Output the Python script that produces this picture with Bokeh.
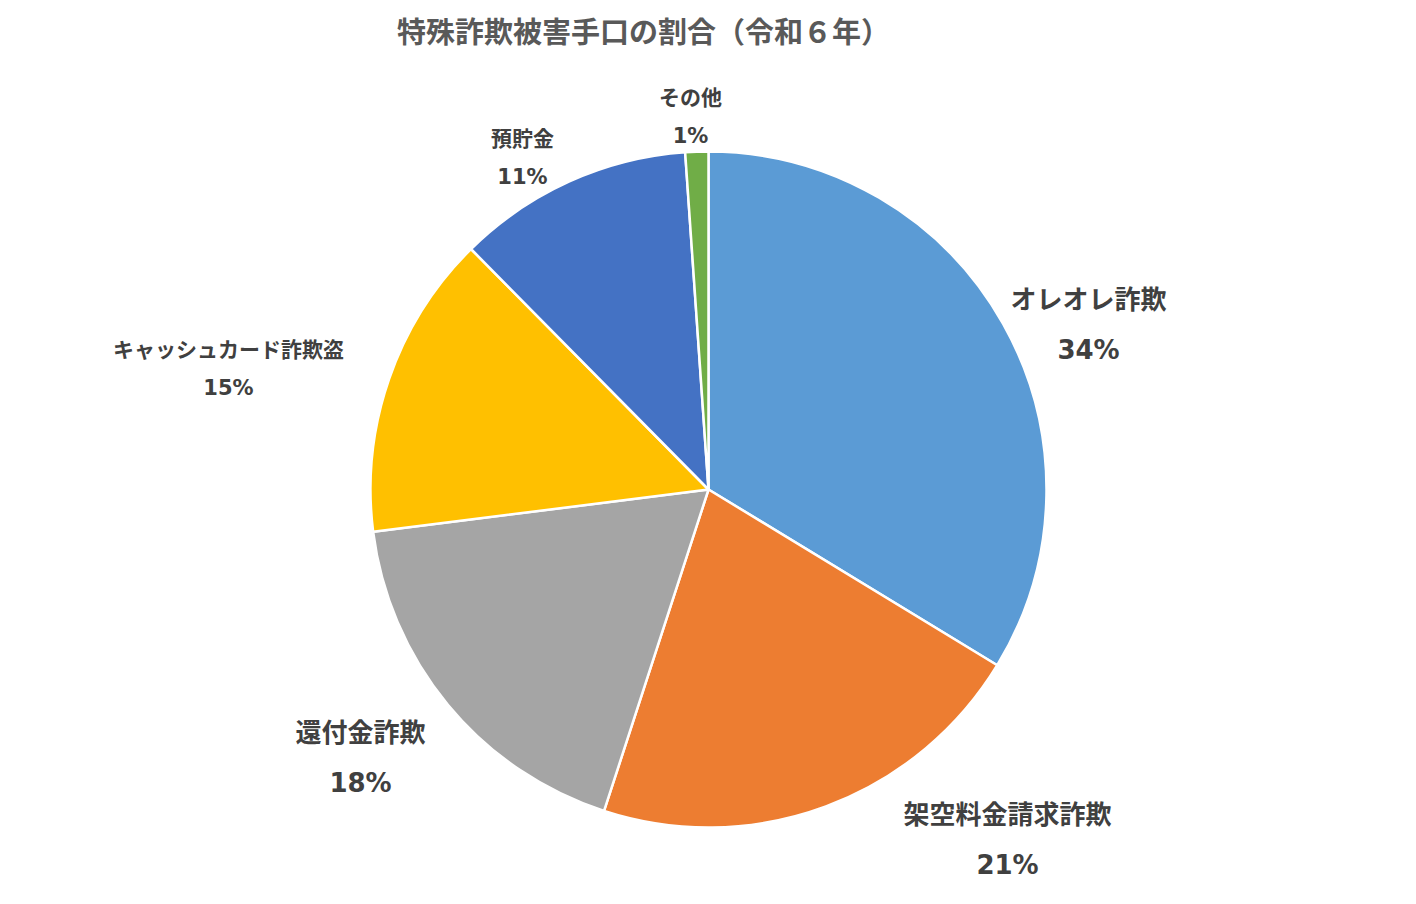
import numpy as np
from bokeh.plotting import figure
from bokeh.models import ColumnDataSource, Range1d
from bokeh.core.properties import value
from bokeh.embed import file_html
from bokeh.resources import INLINE

# ---- data ----
categories = ["オレオレ詐欺", "架空料金請求詐欺", "還付金詐欺", "キャッシュカード詐欺盗", "預貯金", "その他"]
shares = [33.7, 21.3, 18.0, 14.6, 11.3, 1.1]
colors = ["#5B9BD5", "#ED7D31", "#A5A5A5", "#FFC000", "#4472C4", "#70AD47"]
title_text = "特殊詐欺被害手口の割合（令和６年）"

# ---- layout (page pixels) ----
W, H = 1400, 888
Y0 = 889
def fy(py):
    return Y0 - py

cx, cy, R = 708, fy(490), 338
label_name_xy = [(1088, 298), (1007, 813), (360, 731), (228, 348), (522, 137), (690, 96)]
label_pct_xy = [(1088, 350), (1007, 865), (360, 783), (228, 388), (522, 177), (690, 136)]
label_sizes = ["26px", "26px", "26px", "21px", "21px", "21px"]

vals = np.array(shares, dtype=float)
frac = vals / vals.sum()
cum = np.concatenate([[0], np.cumsum(frac)])
start = np.pi / 2 - 2 * np.pi * cum[:-1]
end = np.pi / 2 - 2 * np.pi * cum[1:]
pct_txt = [f"{int(round(f * 100))}%" for f in frac]

src = ColumnDataSource(dict(start=start, end=end, color=colors, cat=categories))

p = figure(width=W, height=H, output_backend="svg", toolbar_location=None,
           x_range=Range1d(0, W), y_range=Range1d(0, H), min_border=0,
           outline_line_color=None, background_fill_color="white")
p.axis.visible = False
p.grid.visible = False

p.wedge(x=cx, y=cy, radius=R, start_angle="start", end_angle="end", direction="clock",
        fill_color="color", line_color="white", line_width=2.5, source=src)

lab = ColumnDataSource(dict(
    nx=[a for a, b in label_name_xy], ny=[fy(b) for a, b in label_name_xy],
    px=[a for a, b in label_pct_xy], py=[fy(b) for a, b in label_pct_xy],
    name=categories, pct=pct_txt, size=label_sizes))

p.text(x="nx", y="ny", text="name", source=lab, text_align="center", text_baseline="middle",
       text_font=value("Noto Sans CJK JP"), text_font_style="bold", text_font_size="size",
       text_color="#404040")
p.text(x="px", y="py", text="pct", source=lab, text_align="center", text_baseline="middle",
       text_font=value("DejaVu Sans"), text_font_style="bold", text_font_size="size",
       text_color="#404040")

p.text(x=[643], y=[fy(30)], text=[title_text], text_align="center", text_baseline="middle",
       text_font=value("Noto Sans CJK JP"), text_font_style="bold", text_font_size="29px",
       text_color="#595959")

open("out.html", "w").write(file_html(p, INLINE))
